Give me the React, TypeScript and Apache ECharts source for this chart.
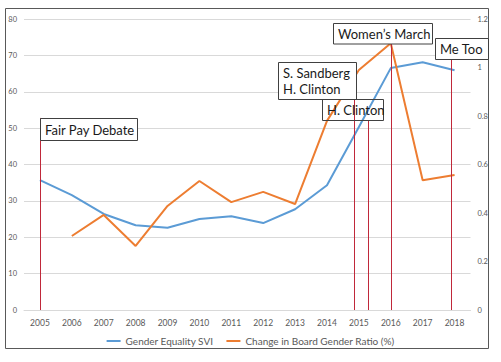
import React, { useEffect, useRef } from "react";
import * as echarts from "echarts";

const years = ["2005", "2006", "2007", "2008", "2009", "2010", "2011", "2012", "2013", "2014", "2015", "2016", "2017", "2018"];
const genderEqualitySVI = [35.7, 31.6, 26.4, 23.3, 22.6, 25.0, 25.8, 23.9, 27.7, 34.3, 50.3, 66.5, 68.1, 65.9];
const boardGenderRatio = [null, 0.305, 0.392, 0.264, 0.429, 0.532, 0.445, 0.487, 0.437, 0.78, 0.99, 1.1, 0.535, 0.557];
const seriesNames = ["Gender Equality SVI", "Change in Board Gender Ratio (%)"];
const eventPositions = [0, 9.87, 10.3, 11, 12.9];
const eventTops = [52.8, 66, 52.2, 73.3, 69];
const eventLabels = ["Fair Pay Debate", "S. Sandberg\nH. Clinton", "H. Clinton", "Women\u2019s March", "Me Too"];

const FONT = "Lato, 'Liberation Sans', sans-serif";

export default function App() {
  const ref = useRef<HTMLDivElement>(null);
  useEffect(() => {
    document.body.style.margin = "0";
    const chart = echarts.init(ref.current!, null, { renderer: "svg" });

    const boxes = [
      { x: 40, y: 118, w: 97, h: 22, fill: "#fff" },
      { x: 278, y: 62, w: 78, h: 37, fill: "#fff" },
      { x: 322, y: 99, w: 61, h: 21, fill: "none" },
      { x: 333, y: 23, w: 99, h: 20.5, fill: "#fff" },
      { x: 435, y: 38, w: 53, h: 21, fill: "#fff" },
    ];

    const graphic: any[] = [
      {
        type: "rect",
        silent: true,
        z: 50,
        shape: { x: 5.5, y: 8.5, width: 483, height: 340 },
        style: { fill: "none", stroke: "#595959", lineWidth: 1 },
      },
    ];
    boxes.forEach((b, i) => {
      graphic.push({
        type: "rect",
        silent: true,
        z: 100,
        shape: { x: b.x + 0.5, y: b.y + 0.5, width: b.w, height: b.h },
        style: { fill: b.fill, stroke: "#404040", lineWidth: 1 },
      });
      graphic.push({
        type: "text",
        silent: true,
        z: 101,
        x: b.x + 5,
        y: b.y + b.h / 2 + 0.5,
        style: {
          text: eventLabels[i],
          fontSize: 13,
          fontFamily: FONT,
          fill: "#1a1a1a",
          verticalAlign: "middle",
          align: "left",
          lineHeight: 16,
        },
      });
    });

    chart.setOption({
      animation: false,
      backgroundColor: "#fff",
      grid: { left: 24, right: 30.5, top: 19, bottom: 52, containLabel: false },
      legend: {
        data: seriesNames,
        left: "center",
        top: 334,
        itemWidth: 14,
        itemHeight: 2,
        itemGap: 13,
        icon: "rect",
        padding: 0,
        textStyle: { color: "#595959", fontSize: 10, fontFamily: FONT, lineHeight: 14 },
      },
      xAxis: [
        {
          type: "category",
          data: years,
          boundaryGap: true,
          axisLine: { show: true, lineStyle: { color: "#d9d9d9" } },
          axisTick: { show: false },
          axisLabel: { color: "#595959", fontSize: 8.5, fontFamily: FONT, margin: 8 },
        },
        { type: "value", min: -0.5, max: 13.5, show: false },
      ],
      yAxis: [
        {
          type: "value",
          min: 0,
          max: 80,
          interval: 10,
          axisLine: { show: false },
          axisTick: { show: false },
          axisLabel: { color: "#595959", fontSize: 7.5, fontFamily: FONT, margin: 7 },
          splitLine: { lineStyle: { color: "#d9d9d9" } },
        },
        {
          type: "value",
          min: 0,
          max: 1.2,
          interval: 0.2,
          position: "right",
          axisLine: { show: false },
          axisTick: { show: false },
          axisLabel: { color: "#595959", fontSize: 7.5, fontFamily: FONT, margin: 7 },
          splitLine: { show: false },
        },
      ],
      series: [
        {
          name: seriesNames[0],
          type: "line",
          data: genderEqualitySVI,
          yAxisIndex: 0,
          showSymbol: false,
          symbol: "none",
          lineStyle: { color: "#5B9BD5", width: 2 },
          itemStyle: { color: "#5B9BD5" },
          z: 3,
        },
        {
          name: seriesNames[1],
          type: "line",
          data: boardGenderRatio,
          yAxisIndex: 1,
          showSymbol: false,
          symbol: "none",
          lineStyle: { color: "#ED7D31", width: 2 },
          itemStyle: { color: "#ED7D31" },
          z: 3,
        },
        {
          name: "events",
          type: "lines",
          coordinateSystem: "cartesian2d",
          xAxisIndex: 1,
          yAxisIndex: 0,
          silent: true,
          z: 4,
          lineStyle: { color: "#C0283A", width: 1, opacity: 1 },
          data: eventPositions.map((p, i) => ({ coords: [[p, 0], [p, eventTops[i]]] })),
        },
      ],
      graphic,
    });
    return () => chart.dispose();
  }, []);
  return <div ref={ref} style={{ width: 501, height: 362 }} />;
}
